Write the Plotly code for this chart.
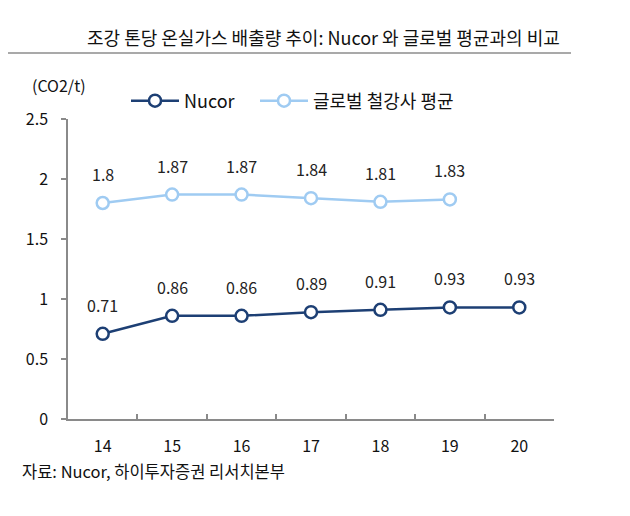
import plotly.graph_objects as go

# 데이터
years = ["14", "15", "16", "17", "18", "19", "20"]
nucor = [0.71, 0.86, 0.86, 0.89, 0.91, 0.93, 0.93]
global_years = ["14", "15", "16", "17", "18", "19"]
global_avg = [1.8, 1.87, 1.87, 1.84, 1.81, 1.83]
y_ticks = [0, 0.5, 1, 1.5, 2, 2.5]
y_ticktext = ["0", "0.5", "1", "1.5", "2", "2.5"]

NAVY = "#1d3f74"
LIGHT = "#9fcbf2"
FONT = "Noto Sans CJK KR"

# 플롯 영역 (픽셀): x 68~554, y 119~419
PL, PR, PT, PB = 68, 554, 119, 419


def px(x):
    return (x - PL) / (PR - PL)


def py(y):
    return (PB - y) / (PB - PT)


fig = go.Figure()

fig.add_trace(go.Scatter(
    x=years, y=nucor, name="Nucor", mode="lines+markers", legend="legend",
    line=dict(color=NAVY, width=2.5),
    marker=dict(size=12, color="white", line=dict(color=NAVY, width=2.5)),
))
fig.add_trace(go.Scatter(
    x=global_years, y=global_avg, name="글로벌 철강사 평균", mode="lines+markers",
    legend="legend2",
    line=dict(color=LIGHT, width=2.5),
    marker=dict(size=12, color="white", line=dict(color=LIGHT, width=2.5)),
))

# 데이터 레이블 (카테고리 축: 순번 위치 사용)
annotations = []
for xs, ys in [(years, nucor), (global_years, global_avg)]:
    for x, y in zip(xs, ys):
        annotations.append(dict(
            xref="x", yref="y", x=years.index(x), y=y, text=f"{y:g}",
            showarrow=False, yshift=29, xanchor="center", yanchor="middle",
            font=dict(size=16, color="#222", family=FONT),
        ))

annotations += [
    dict(xref="paper", yref="paper", x=px(323), y=py(37),
         xanchor="center", yanchor="middle",
         text="조강 톤당 온실가스 배출량 추이: Nucor 와 글로벌 평균과의 비교",
         showarrow=False, font=dict(size=18, color="#111", family=FONT)),
    dict(xref="paper", yref="paper", x=px(59), y=py(85),
         xanchor="center", yanchor="middle",
         text="(CO2/t)", showarrow=False, font=dict(size=16, color="#111", family=FONT)),
    dict(xref="paper", yref="paper", x=px(20), y=py(471),
         xanchor="left", yanchor="middle",
         text="자료: Nucor, 하이투자증권 리서치본부", showarrow=False,
         font=dict(size=16.5, color="#111", family=FONT)),
]

legend_style = dict(orientation="h", y=py(101), xanchor="left", yanchor="middle",
                    font=dict(size=18, family=FONT), bgcolor="rgba(0,0,0,0)",
                    itemwidth=48)

# 페이지 body 여백(8px) 보정
OFF = 8
fig.update_layout(
    width=630, height=516,
    margin=dict(l=PL - OFF, r=630 - PR + OFF, t=PT - OFF, b=516 - PB + OFF),
    paper_bgcolor="white", plot_bgcolor="white",
    font=dict(family=FONT, size=16, color="#111"),
    showlegend=True,
    legend=dict(x=px(126), **legend_style),
    legend2=dict(x=px(255), **legend_style),
    annotations=annotations,
    shapes=[dict(type="line", xref="paper", yref="paper",
                 x0=px(6), x1=px(571), y0=py(53), y1=py(53),
                 line=dict(color="#555", width=1.2))],
)

fig.update_xaxes(
    type="category", range=[-0.5, 6.5], tickson="boundaries",
    showline=True, linecolor="#8a8a8a", linewidth=1.5,
    ticks="inside", ticklen=5, tickcolor="#8a8a8a", tickwidth=1.5,
    showgrid=False, zeroline=False, ticklabelstandoff=12,
)
fig.update_yaxes(
    range=[0, 2.5], tickvals=y_ticks, ticktext=y_ticktext,
    showline=True, linecolor="#8a8a8a", linewidth=1.5,
    ticks="outside", ticklen=5, tickcolor="#8a8a8a", tickwidth=1.5,
    showgrid=False, zeroline=False, ticklabelstandoff=10,
)

fig.write_html("out.html")
